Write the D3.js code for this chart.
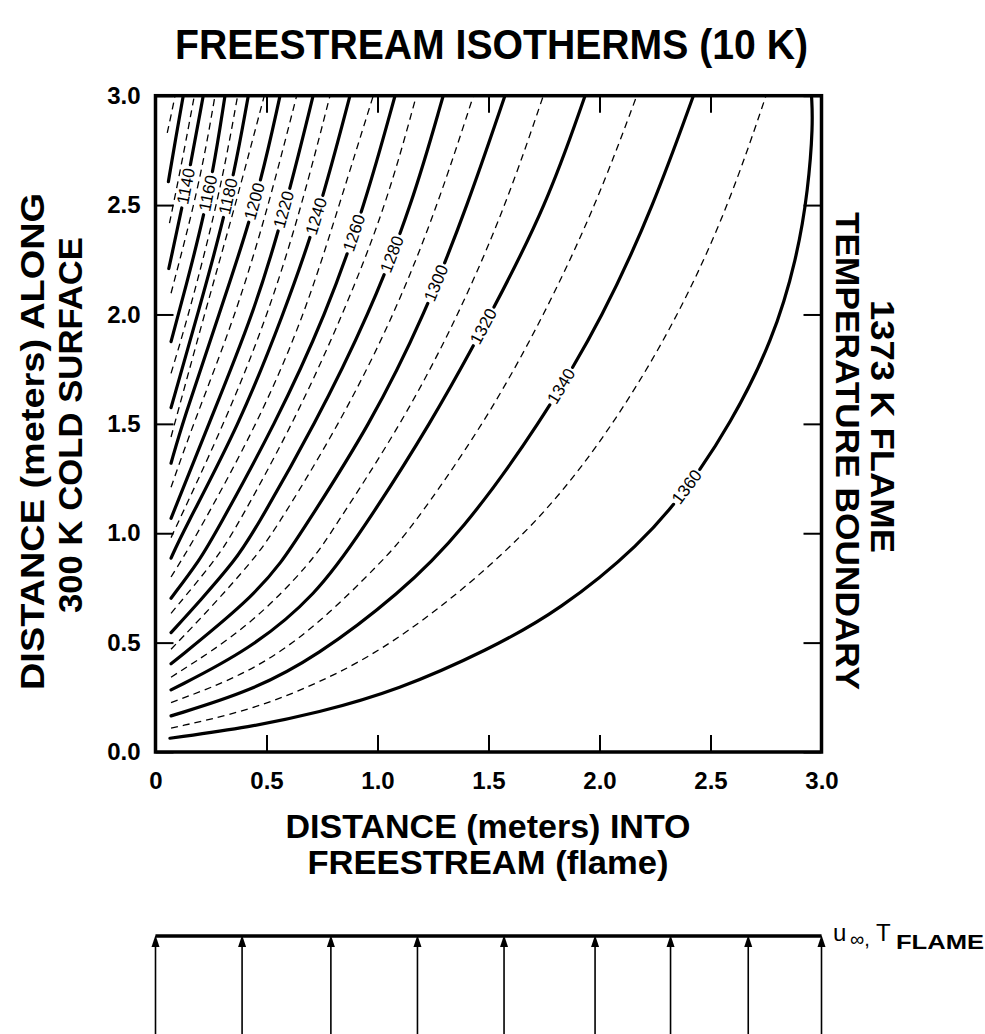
<!DOCTYPE html>
<html><head><meta charset="utf-8">
<script src="https://cdn.jsdelivr.net/npm/d3@7"></script>
<style>body{margin:0;background:#fff;} svg{display:block;} text{font-family:"Liberation Sans",Arial,sans-serif;}</style>
</head><body>
<svg id="chart" width="985" height="1034"></svg>
<script>
// ---- axis ticks ----
const xTicks = [0, 0.5, 1, 1.5, 2, 2.5, 3];
const xTickLabels = ["0", "0.5", "1.0", "1.5", "2.0", "2.5", "3.0"];
const yTicks = [0, 0.5, 1, 1.5, 2, 2.5, 3];
const yTickLabels = ["0.0", "0.5", "1.0", "1.5", "2.0", "2.5", "3.0"];

// ---- isotherms: [distance into freestream, distance along surface] ----
const iso1110 = [[0.053,2.83],[0.07,2.91],[0.088,3.0]];
const iso1120 = [[0.058,2.607],[0.09,2.8],[0.125,3.0]];
const iso1130 = [[0.063,2.417],[0.12,2.7],[0.175,3.0]];
const iso1140 = [[0.06,2.21],[0.14,2.584],[0.215,3.0]];
const iso1150 = [[0.07,2.097],[0.2,2.6],[0.268,3.0]];
const iso1160 = [[0.07,1.876],[0.13,2.1],[0.245,2.554],[0.313,3.0]];
const iso1170 = [[0.07,1.731],[0.15,2.0],[0.29,2.55],[0.37,3.0]];
const iso1180 = [[0.07,1.574],[0.19,2.0],[0.336,2.538],[0.418,3.0]];
const iso1190 = [[0.07,1.44],[0.22,2.0],[0.36,2.5],[0.49,3.0]];
const iso1200 = [[0.07,1.32],[0.12,1.5],[0.286,2.0],[0.456,2.516],[0.561,3.0]];
const iso1210 = [[0.07,1.21],[0.17,1.5],[0.363,2.0],[0.51,2.5],[0.636,3.0]];
const iso1220 = [[0.07,1.068],[0.24,1.5],[0.441,2.0],[0.583,2.477],[0.71,3.0]];
const iso1230 = [[0.07,0.98],[0.31,1.5],[0.508,2.0],[0.66,2.5],[0.786,3.0]];
const iso1240 = [[0.07,0.886],[0.12,1.0],[0.38,1.5],[0.576,2.0],[0.732,2.445],[0.876,3.0]];
const iso1250 = [[0.07,0.80],[0.118,0.878],[0.19,1.0],[0.46,1.5],[0.673,2.0],[0.827,2.5],[0.981,3.0]];
const iso1260 = [[0.07,0.703],[0.2,0.878],[0.27,1.0],[0.54,1.5],[0.768,2.0],[0.943,2.5],[1.079,3.0]];
const iso1270 = [[0.07,0.634],[0.27,0.878],[0.35,1.0],[0.62,1.5],[0.845,2.0],[1.04,2.5],[1.175,3.0]];
const iso1280 = [[0.07,0.546],[0.2,0.69],[0.36,0.878],[0.44,1.0],[0.72,1.5],[0.962,2.0],[1.155,2.5],[1.296,3.0]];
const iso1290 = [[0.07,0.47],[0.25,0.66],[0.44,0.878],[0.53,1.0],[0.83,1.5],[1.077,2.0],[1.272,2.5],[1.432,3.0]];
const iso1300 = [[0.07,0.403],[0.426,0.695],[0.576,0.878],[0.654,1.0],[0.97,1.5],[1.213,2.0],[1.406,2.5],[1.574,3.0]];
const iso1310 = [[0.07,0.342],[0.426,0.573],[0.711,0.878],[0.788,1.0],[1.11,1.5],[1.367,2.0],[1.579,2.5],[1.747,3.0]];
const iso1320 = [[0.07,0.284],[0.426,0.467],[0.726,0.72],[0.923,1.0],[1.24,1.5],[1.51,2.0],[1.762,2.5],[1.935,3.0]];
const iso1330 = [[0.07,0.226],[0.426,0.36],[0.726,0.573],[1.026,0.878],[1.136,1.0],[1.482,1.5],[1.753,2.0],[1.984,2.5],[2.168,3.0]];
const iso1340 = [[0.07,0.165],[0.426,0.276],[0.726,0.436],[1.101,0.726],[1.376,1.0],[1.732,1.5],[2.022,2.0],[2.244,2.5],[2.423,3.0]];
const iso1350 = [[0.07,0.109],[0.426,0.19],[0.726,0.31],[1.101,0.505],[1.694,1.0],[2.07,1.5],[2.36,2.0],[2.583,2.5],[2.75,3.0]];
const iso1360 = [[0.065,0.063],[0.426,0.114],[0.728,0.178],[1.093,0.283],[1.498,0.466],[1.823,0.649],[2.183,0.946],[2.399,1.207],[2.588,1.495],[2.782,1.883],[2.89,2.26],[2.94,2.57],[2.962,2.87],[2.955,3.0]];

const temps = [1110,1120,1130,1140,1150,1160,1170,1180,1190,1200,1210,1220,1230,1240,1250,1260,1270,1280,1290,1300,1310,1320,1330,1340,1350,1360];
const isoPoints = [iso1110,iso1120,iso1130,iso1140,iso1150,iso1160,iso1170,iso1180,iso1190,iso1200,iso1210,iso1220,iso1230,iso1240,iso1250,iso1260,iso1270,iso1280,iso1290,iso1300,iso1310,iso1320,iso1330,iso1340,iso1350,iso1360];

// contour labels: temperature and approximate location on the curve
const labelTemps = [1140,1160,1180,1200,1220,1240,1260,1280,1300,1320,1340,1360];
const labelX = [0.14,0.245,0.336,0.456,0.583,0.732,0.90,1.056,1.27,1.507,1.844,2.40];
const labelY = [2.584,2.554,2.538,2.516,2.477,2.445,2.37,2.28,2.14,1.93,1.664,1.207];

// freestream velocity arrows (positions along x)
const arrowX = [0, 0.39, 0.79, 1.18, 1.57, 1.98, 2.32, 2.67, 3.0];

// ---------------------------------------------------------------
const svg = d3.select("#chart");
const x = d3.scaleLinear().domain([0, 3]).range([155.5, 821.5]);
const y = d3.scaleLinear().domain([0, 3]).range([752, 95.7]);

// title
svg.append("text").attr("x", 491.5).attr("y", 59).attr("text-anchor", "middle")
  .attr("font-size", 42).attr("font-weight", "bold")
  .attr("textLength", 633).attr("lengthAdjust", "spacingAndGlyphs")
  .text("FREESTREAM ISOTHERMS (10 K)");

// axes
const gx = svg.append("g").attr("transform", `translate(0,${y(0)})`)
  .call(d3.axisBottom(x).tickValues(xTicks).tickSizeInner(-17).tickSizeOuter(0).tickPadding(20)
    .tickFormat((d, i) => xTickLabels[i]));
const gxt = svg.append("g").attr("transform", `translate(0,${y(3)})`)
  .call(d3.axisTop(x).tickValues(xTicks).tickSizeInner(-17).tickSizeOuter(0).tickFormat(() => ""));
const gy = svg.append("g").attr("transform", `translate(${x(0)},0)`)
  .call(d3.axisLeft(y).tickValues(yTicks).tickSizeInner(-18).tickSizeOuter(0).tickPadding(15)
    .tickFormat((d, i) => yTickLabels[i]));
const gyr = svg.append("g").attr("transform", `translate(${x(3)},0)`)
  .call(d3.axisRight(y).tickValues(yTicks).tickSizeInner(-18).tickSizeOuter(0).tickFormat(() => ""));
[gx, gxt, gy, gyr].forEach(g => {
  g.select(".domain").remove();
  g.selectAll(".tick line").attr("stroke", "#000").attr("stroke-width", 2);
  g.selectAll(".tick text").attr("font-size", 24).attr("font-weight", "bold")
    .attr("font-family", "'Liberation Sans', Arial, sans-serif").attr("fill", "#000");
});

// isotherms
const line = d3.line().x(d => x(d[0])).y(d => y(d[1])).curve(d3.curveBasis);
const gIso = svg.append("g");
const paths = {};
temps.forEach((t, i) => {
  const solid = (t % 20 === 0);
  const p = gIso.append("path").attr("d", line(isoPoints[i]))
    .attr("fill", "none").attr("stroke", "#000")
    .attr("stroke-width", solid ? 3.2 : 1.3)
    .attr("stroke-linecap", solid ? "round" : "butt");
  if (!solid) p.attr("stroke-dasharray", "7,5");
  paths[t] = p;
});

// contour labels with gaps
labelTemps.forEach((t, i) => {
  const node = paths[t].node();
  const total = node.getTotalLength();
  const lx = x(labelX[i]), ly = y(labelY[i]);
  let best = 0, bd = Infinity;
  for (let s = 0; s <= total; s += 1) {
    const p = node.getPointAtLength(s);
    const d = (p.x - lx) ** 2 + (p.y - ly) ** 2;
    if (d < bd) { bd = d; best = s; }
  }
  const p = node.getPointAtLength(best);
  const a = node.getPointAtLength(Math.max(0, best - 4));
  const b = node.getPointAtLength(Math.min(total, best + 4));
  const ang = Math.atan2(b.y - a.y, b.x - a.x) * 180 / Math.PI;
  const hg = 22;
  paths[t].attr("stroke-dasharray", `${Math.max(0, best - hg)},${2 * hg},${total}`);
  svg.append("text").attr("transform", `translate(${p.x},${p.y}) rotate(${ang})`)
    .attr("text-anchor", "middle").attr("dominant-baseline", "central")
    .attr("font-size", 17).text(t);
});

// frame
svg.append("rect").attr("x", x(0)).attr("y", y(3)).attr("width", x(3) - x(0)).attr("height", y(0) - y(3))
  .attr("fill", "none").attr("stroke", "#000").attr("stroke-width", 3.5);

// axis titles
function rotText(cx, cy, rot, len, txt) {
  svg.append("text").attr("transform", `translate(${cx},${cy}) rotate(${rot})`)
    .attr("text-anchor", "middle").attr("font-size", 34).attr("font-weight", "bold")
    .attr("textLength", len).attr("lengthAdjust", "spacingAndGlyphs").text(txt);
}
rotText(44, 441.5, -90, 497, "DISTANCE (meters) ALONG");
rotText(82, 425, -90, 376, "300 K COLD SURFACE");
rotText(871, 426.5, 90, 253, "1373 K FLAME");
rotText(836, 451, 90, 478, "TEMPERATURE BOUNDARY");
rotText(488, 838, 0, 405, "DISTANCE (meters) INTO");
rotText(488, 874, 0, 361, "FREESTREAM (flame)");

// bottom flow diagram
const yLine = 936;
svg.append("line").attr("x1", x(0)).attr("x2", x(3)).attr("y1", yLine).attr("y2", yLine)
  .attr("stroke", "#000").attr("stroke-width", 3.5);
arrowX.forEach(v => {
  const cx = x(v);
  svg.append("line").attr("x1", cx).attr("x2", cx).attr("y1", 1034).attr("y2", yLine + 8)
    .attr("stroke", "#000").attr("stroke-width", 1.6);
  svg.append("path").attr("d", `M${cx - 4},${yLine + 11} L${cx},${yLine - 1} L${cx + 4},${yLine + 11} Z`)
    .attr("fill", "#000");
});
svg.append("text").attr("x", 833).attr("y", 941).attr("font-size", 24).text("u");
svg.append("text").attr("x", 850).attr("y", 946).attr("font-size", 20).text("\u221E,");
svg.append("text").attr("x", 876).attr("y", 941).attr("font-size", 24).text("T");
svg.append("text").attr("x", 896).attr("y", 949).attr("font-size", 21).attr("font-weight", "bold")
  .attr("textLength", 88).attr("lengthAdjust", "spacingAndGlyphs").text("FLAME");
</script>
</body></html>
